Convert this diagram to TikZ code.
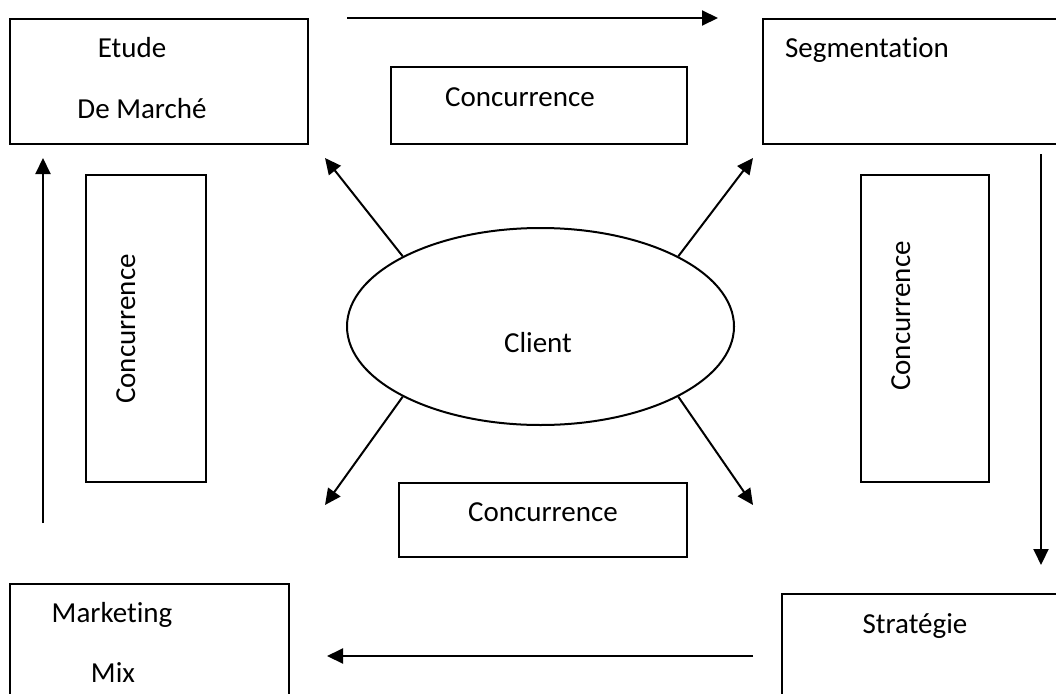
\documentclass[tikz,border=0pt]{standalone}
\usepackage{fontspec}
\setmainfont{Carlito}[Ligatures=NoCommon]
\usetikzlibrary{arrows.meta,shapes.geometric}

\begin{document}
\begin{tikzpicture}[x=1pt,y=-1pt,
  box/.style={draw, line width=2pt, rectangle, inner sep=0pt, outer sep=0pt},
  lbl/.style={anchor=base, inner sep=0pt, font=\fontsize{29}{34}\selectfont},
  flow/.style={line width=2pt, -{Triangle[length=16pt,width=15pt]}}]
\useasboundingbox (0,0) rectangle (1056,693);

% the four stage boxes (some run past the page edge)
\node[box, minimum width=298pt, minimum height=125pt] (etude) at (159,81.5) {};
\node[box, minimum width=320pt, minimum height=125pt, anchor=north west] (segm) at (763,19) {};
\node[box, minimum width=300pt, minimum height=140pt, anchor=north west] (strat) at (782,594) {};
\node[box, minimum width=279pt, minimum height=140pt, anchor=north west] (mix) at (10,584) {};

\node[lbl] (etudeA) at (132,58) {Etude};
\node[lbl] (etudeB) at (142,118) {De Marché};
\node[lbl] (segmT) at (867,58) {Segmentation};
\node[lbl] (stratT) at (915,633) {Stratégie};
\node[lbl] (mixA) at (112,622) {Marketing};
\node[lbl] (mixB) at (113,682) {Mix};

% competition boxes around the client
\node[box, minimum width=296pt, minimum height=77pt] (concT) at (539,105.5) {};
\node[box, minimum width=288pt, minimum height=74pt] (concB) at (543,520) {};
\node[box, minimum width=120pt, minimum height=307pt] (concL) at (146,328.5) {};
\node[box, minimum width=128pt, minimum height=307pt] (concR) at (925,328.5) {};

\node[lbl] (concTt) at (520,106) {Concurrence};
\node[lbl] (concBt) at (543,521) {Concurrence};
\node[lbl, rotate=90] (concLt) at (135,329) {Concurrence};
\node[lbl, rotate=90] (concRt) at (910,316) {Concurrence};

% the client at the centre
\node[draw, line width=2pt, ellipse, inner sep=0pt, minimum width=387pt, minimum height=197pt] (client) at (540.5,326.5) {};
\node[lbl] (clientT) at (538,352) {Client};

% free ends of the connectors
\coordinate (nw) at (325,158);
\coordinate (ne) at (753,158);
\coordinate (sw) at (325,505);
\coordinate (se) at (753,505);
\coordinate (topA) at (347,18);
\coordinate (topB) at (718,18);
\coordinate (rgtA) at (1041,154);
\coordinate (rgtB) at (1041,565);
\coordinate (botA) at (753,656);
\coordinate (botB) at (327,656);
\coordinate (lftA) at (43,523);
\coordinate (lftB) at (43,158);

% arrows out of the client
\draw[flow] (client.153) -- (nw);
\draw[flow] (client.27) -- (ne);
\draw[flow] (client.-153) -- (sw);
\draw[flow] (client.-27) -- (se);

% the cycle of stages
\draw[flow] (topA) -- (topB);
\draw[flow] (rgtA) -- (rgtB);
\draw[flow] (botA) -- (botB);
\draw[flow] (lftA) -- (lftB);
\end{tikzpicture}
\end{document}
